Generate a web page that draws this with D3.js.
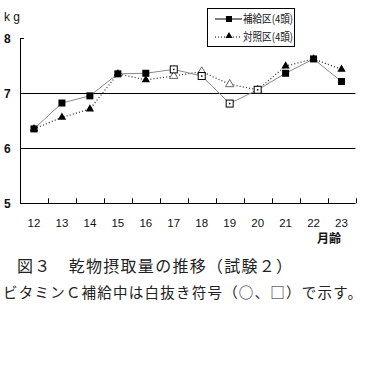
<!DOCTYPE html>
<html><head><meta charset="utf-8">
<script src="https://cdn.jsdelivr.net/npm/d3@7"></script>
<style>body{margin:0;background:#fff}svg{display:block}</style>
</head><body>
<script>
const months = [12,13,14,15,16,17,18,19,20,21,22,23];
const supplement = [6.35,6.82,6.95,7.35,7.36,7.43,7.31,6.81,7.06,7.36,7.62,7.21];
const control = [6.35,6.56,6.71,7.35,7.24,7.31,7.39,7.16,7.06,7.49,7.62,7.43];
const vitaminC = [false,false,false,false,false,true,true,true,true,false,false,false];
const yTicks = [5,6,7,8];
const gridValues = [6,7];
const seriesNames = ["補給区(4頭)","対照区(4頭)"];

const W=367,H=378;
const svg=d3.select("body").append("svg").attr("width",W).attr("height",H);
const x=d3.scaleBand().domain(months).range([20,355.5]);
const y=d3.scaleLinear().domain([5,8]).range([203.3,38]);
const sans="'Liberation Sans',Arial,sans-serif";
const cjk="'Noto Sans CJK JP',sans-serif";

// gridlines
svg.selectAll(".grid").data(gridValues).join("line")
  .attr("x1",20).attr("x2",355.5).attr("y1",d=>Math.round(y(d))+0.5).attr("y2",d=>Math.round(y(d))+0.5)
  .attr("stroke","#000").attr("stroke-width",1.2);
// y axis
svg.append("line").attr("x1",20.5).attr("x2",20.5).attr("y1",y(8)).attr("y2",y(5)).attr("stroke","#000");
svg.append("line").attr("x1",20).attr("x2",24).attr("y1",Math.round(y(8))+0.5).attr("y2",Math.round(y(8))+0.5).attr("stroke","#000");
// x axis
const xa=d3.axisBottom(x).tickSize(0).tickFormat("");
svg.append("line").attr("x1",20).attr("x2",355.5).attr("y1",Math.round(y(5))+0.5).attr("y2",Math.round(y(5))+0.5).attr("stroke","#000").attr("stroke-width",1.2);
svg.selectAll(".xt").data(months.slice(1).concat(["end"])).join("line")
  .attr("x1",(d,i)=>Math.round(20+(i+1)*x.step())+0.5).attr("x2",(d,i)=>Math.round(20+(i+1)*x.step())+0.5)
  .attr("y1",y(5)).attr("y2",y(5)-5).attr("stroke","#000");
// labels
svg.selectAll(".yl").data(yTicks).join("text")
  .attr("x",4).attr("y",d=>y(d)+4.5).text(d=>d)
  .attr("font-family",sans).attr("font-size",12).attr("font-weight","bold").attr("fill","#111");
svg.append("text").attr("x",4).attr("y",21).text("k g").attr("font-family",sans).attr("font-size",12).attr("fill","#111");
svg.selectAll(".xl").data(months).join("text")
  .attr("x",d=>x(d)+x.bandwidth()/2).attr("y",227).attr("text-anchor","middle").text(d=>d)
  .attr("font-family",sans).attr("font-size",11.5).attr("fill","#111");
svg.append("text").attr("x",329).attr("y",243).attr("text-anchor","middle").text("月齢")
  .attr("font-family",cjk).attr("font-size",12).attr("font-weight","bold").attr("fill","#111");

const cx=d=>x(d)+x.bandwidth()/2;
// control series (dotted + triangles)
const ctl=months.map((m,i)=>({m,v:control[i],open:vitaminC[i]}));
const sup=months.map((m,i)=>({m,v:supplement[i],open:vitaminC[i]}));
const line=d3.line().x(d=>cx(d.m)).y(d=>y(d.v));
svg.append("path").datum(ctl).attr("d",line).attr("fill","none").attr("stroke","#333").attr("stroke-width",1.3).attr("stroke-dasharray","1,2.2");
const tri=d3.symbol().type(d3.symbolTriangle).size(30);
svg.selectAll(".tri").data(ctl).join("path")
  .attr("transform",d=>`translate(${cx(d.m)},${y(d.v)})`).attr("d",tri)
  .attr("fill",d=>d.open?"#fff":"#000").attr("stroke",d=>d.open?"#666":"none");
// supplement series
svg.append("path").datum(sup).attr("d",line).attr("fill","none").attr("stroke","#888").attr("stroke-width",1);
svg.selectAll(".sq").data(sup).join("rect")
  .attr("x",d=>cx(d.m)-3.5).attr("y",d=>y(d.v)-3.5).attr("width",7).attr("height",7)
  .attr("fill",d=>d.open?"#fff":"#000").attr("stroke",d=>d.open?"#000":"none").attr("stroke-width",1);
svg.selectAll(".dot").data(sup.filter(d=>d.open)).join("rect")
  .attr("x",d=>cx(d.m)-0.75).attr("y",d=>y(d.v)-0.75).attr("width",1.5).attr("height",1.5).attr("fill","#000");

// legend
svg.append("rect").attr("x",207.5).attr("y",8.5).attr("width",87).attr("height",38).attr("fill","#fff").attr("stroke","#000");
svg.append("line").attr("x1",215).attr("x2",242).attr("y1",19).attr("y2",19).attr("stroke","#000");
svg.append("rect").attr("x",226).attr("y",16).attr("width",6).attr("height",6).attr("fill","#000");
svg.append("line").attr("x1",215).attr("x2",242).attr("y1",37).attr("y2",37).attr("stroke","#000").attr("stroke-dasharray","1,2");
svg.append("path").attr("transform","translate(229,36)").attr("d",d3.symbol().type(d3.symbolTriangle).size(22)).attr("fill","#000");
svg.selectAll(".lg").data(seriesNames).join("text")
  .attr("x",243).attr("y",(d,i)=>23+i*18).text(d=>d)
  .attr("font-family",cjk).attr("font-size",11).attr("textLength",50).attr("lengthAdjust","spacingAndGlyphs").attr("fill","#111");

// captions
svg.append("text").attr("x",17).attr("y",272).text("図３　乾物摂取量の推移（試験２）")
  .attr("font-family",cjk).attr("font-size",16).attr("textLength",275).attr("fill","#222");
svg.append("text").attr("x",3).attr("y",298).text("ビタミンＣ補給中は白抜き符号（○、□）で示す。")
  .attr("font-family",cjk).attr("font-size",14.5).attr("textLength",359).attr("fill","#222");
</script>
</body></html>
